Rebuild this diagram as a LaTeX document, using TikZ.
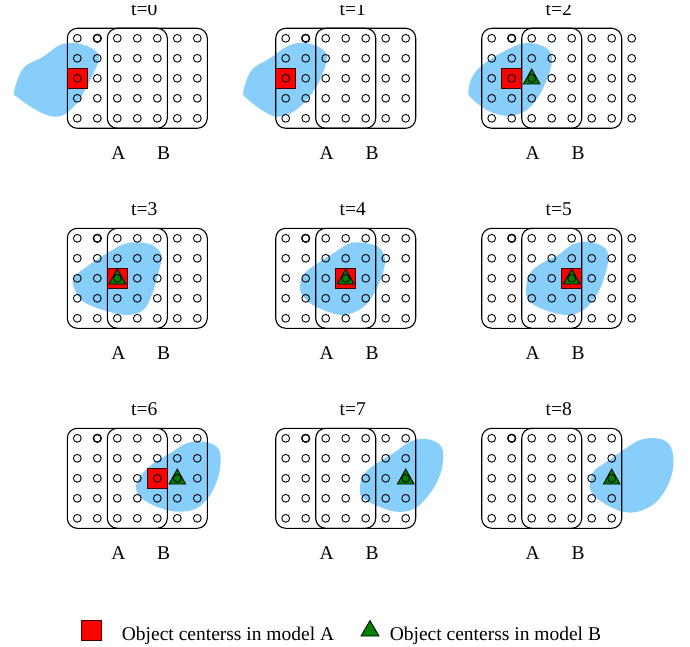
\documentclass[tikz,border=0pt]{standalone}
\usepackage{fontspec}
\setmainfont{Liberation Serif}
\definecolor{blobblue}{RGB}{135,206,250}
\definecolor{mkred}{RGB}{255,0,0}
\definecolor{mkgreen}{RGB}{0,128,0}
\newcommand\pboxes{%
  \draw[region] (-10,-10) rectangle (90,90);
  \draw[region] (30,-10) rectangle (130,90);}
\newcommand\pdots[1]{%
  \foreach \ci in {0,...,#1}{\foreach \ri in {0,...,4}{\draw[gridc] (\ci*20,\ri*20) circle[radius=3.9pt];}}
  \draw[gridc,line width=1.3pt] (20,0) circle[radius=3.9pt];}
\newcommand\redat[1]{\draw[redmk] (#1*20-10,30) rectangle (#1*20+10,50);}
\newcommand\greenat[1]{\draw[greenmk] (#1*20-8.3,45.7) -- (#1*20+8.3,45.7) -- (#1*20,30.7) -- cycle;}
\newcommand\plabels[2]{%
  \node[lbl] (title#2) at (67,-22.6) {#1};
  \node[lbl] (A#2) at (41,121) {A};
  \node[lbl] (B#2) at (86.4,121) {B};}
\begin{document}
\begin{tikzpicture}[x=1pt,y=-1pt,
  blob/.style={fill=blobblue,draw=none},
  gridc/.style={draw=black,line width=0.9pt},
  region/.style={draw=black,line width=1.1pt,rounded corners=10pt},
  redmk/.style={fill=mkred,draw=black!75!red,line width=0.8pt},
  greenmk/.style={fill=mkgreen,draw=black,line width=0.8pt,line join=miter},
  lbl/.style={font=\fontsize{19.5}{22}\selectfont,anchor=base,inner sep=0pt},
  legtext/.style={font=\fontsize{19.5}{22}\selectfont,anchor=base west,inner sep=0pt}]
\useasboundingbox (0,0) rectangle (690,647);

% ---------- t=0
\begin{scope}[shift={(77.3,38.3)}]
\fill[blob] plot[smooth cycle,tension=0.6] coordinates {(-63.3,53.4) (-54,30) (-34,18.4) (-17.3,6.7) (-0.6,5) (14.4,10) (21.7,18.4) (17.7,31.7) (7.7,51.7) (-0.6,65) (-14,76.7) (-27.3,77.7) (-44,70) (-60.6,58.4)};
\pboxes \redat{0} \pdots{6}
\begin{scope}\clip (-100,-33) rectangle (300,200); \plabels{t=0}{0}\end{scope}
\end{scope}
% ---------- t=1
\begin{scope}[shift={(285.7,38.3)}]
\fill[blob] plot[smooth cycle,tension=0.6] coordinates {(-42.4,53.4) (-34,31.7) (-15.7,20) (1,8.4) (16,4.4) (32.6,8.4) (41,16.7) (39.3,28.4) (32.6,45) (21,61.7) (7.6,73.4) (-9,78.4) (-24,71.7) (-39,60)};
\pboxes \redat{0} \pdots{6}
\begin{scope}\clip (-100,-33) rectangle (300,200); \plabels{t=1}{1}\end{scope}
\end{scope}
% ---------- t=2
\begin{scope}[shift={(491.7,38.3)}]
\fill[blob] plot[smooth cycle,tension=0.6] coordinates {(-23.4,53.4) (-18.4,36.7) (-5,23.4) (15,11.7) (31.6,5) (48.3,6.7) (58.3,13.4) (60,25) (55,41.7) (46.6,58.4) (35,71.7) (18.3,77.7) (-1.7,73.4) (-18.4,61.7)};
\pboxes \redat{1} \greenat{2} \pdots{7}
\begin{scope}\clip (-100,-33) rectangle (300,200); \plabels{t=2}{2}\end{scope}
\end{scope}
% ---------- t=3
\begin{scope}[shift={(77.3,238.3)}]
\fill[blob] plot[smooth cycle,tension=0.6] coordinates {(-4,40) (9.4,28.4) (29.4,15) (49.4,5) (69.4,5) (79.4,10) (84.4,18.4) (81,35) (74.4,56.7) (66,71.7) (49.4,76.7) (26,71.7) (6,63.4) (-2.3,51.7)};
\pboxes \redat{2} \greenat{2} \pdots{6}
\plabels{t=3}{3}
\end{scope}
% ---------- t=4
\begin{scope}[shift={(285.7,238.3)}]
\fill[blob] plot[smooth cycle,tension=0.6] coordinates {(14.3,51.7) (17.6,36.7) (29.3,26.7) (47.6,15) (64.3,5) (81,5) (94.3,10) (99.3,21.7) (96,38.4) (87.6,56.7) (76,70) (57.6,76.7) (37.6,71.7) (22.6,63.4)};
\pboxes \redat{3} \greenat{3} \pdots{6}
\plabels{t=4}{4}
\end{scope}
% ---------- t=5
\begin{scope}[shift={(491.7,238.3)}]
\fill[blob] plot[smooth cycle,tension=0.6] coordinates {(34.3,51.7) (38.3,35) (50,25) (66.6,16.7) (80,6.7) (95,3.4) (111.6,8.4) (116.6,18.4) (113.3,36.7) (105,56.7) (91.6,71.7) (75,76.7) (53.3,71.7) (38.3,63.4)};
\pboxes \redat{4} \greenat{4} \pdots{7}
\plabels{t=5}{5}
\end{scope}
% ---------- t=6
\begin{scope}[shift={(77.3,438.3)}]
\fill[blob] plot[smooth cycle,tension=0.6] coordinates {(58.7,50) (62.7,38.4) (76,25) (92.7,15) (109.4,5) (126,3.4) (139.4,8.4) (143.4,20) (141,38.4) (132.7,56.7) (119.4,70) (99.4,73.4) (79.4,68.4) (64.4,60)};
\pboxes \redat{4} \greenat{5} \pdots{6}
\plabels{t=6}{6}
\end{scope}
% ---------- t=7
\begin{scope}[shift={(285.7,438.3)}]
\fill[blob] plot[smooth cycle,tension=0.6] coordinates {(74.3,50) (77.6,36.7) (91,25) (107.6,15) (124.3,3.4) (141,0.7) (154.3,6.7) (157.6,18.4) (154.3,36.7) (144.3,55) (129.3,70) (111,73.4) (89.3,66.7) (76,58.4)};
\pboxes \greenat{6} \pdots{6}
\plabels{t=7}{7}
\end{scope}
% ---------- t=8
\begin{scope}[shift={(491.7,438.3)}]
\fill[blob] plot[smooth cycle,tension=0.6] coordinates {(98.3,46.7) (101.6,33.4) (115,23.4) (131.6,11.7) (148.3,1.7) (165,0) (176.6,5) (181.6,18.4) (180,36.7) (171.6,55) (158.3,68.4) (138.3,74.4) (118.3,68.4) (101.6,56.7)};
\pboxes \greenat{6} \pdots{6}
\plabels{t=8}{8}
\end{scope}

% ---------- legend
\draw[redmk] (81.7,620.5) rectangle (101.7,640.5);
\node[legtext] (legA) at (121.7,640) {Object centerss in model A};
\draw[greenmk] (361,636) -- (379,636) -- (370,620.5) -- cycle;
\node[legtext] (legB) at (389.6,640) {Object centerss in model B};
\end{tikzpicture}
\end{document}
